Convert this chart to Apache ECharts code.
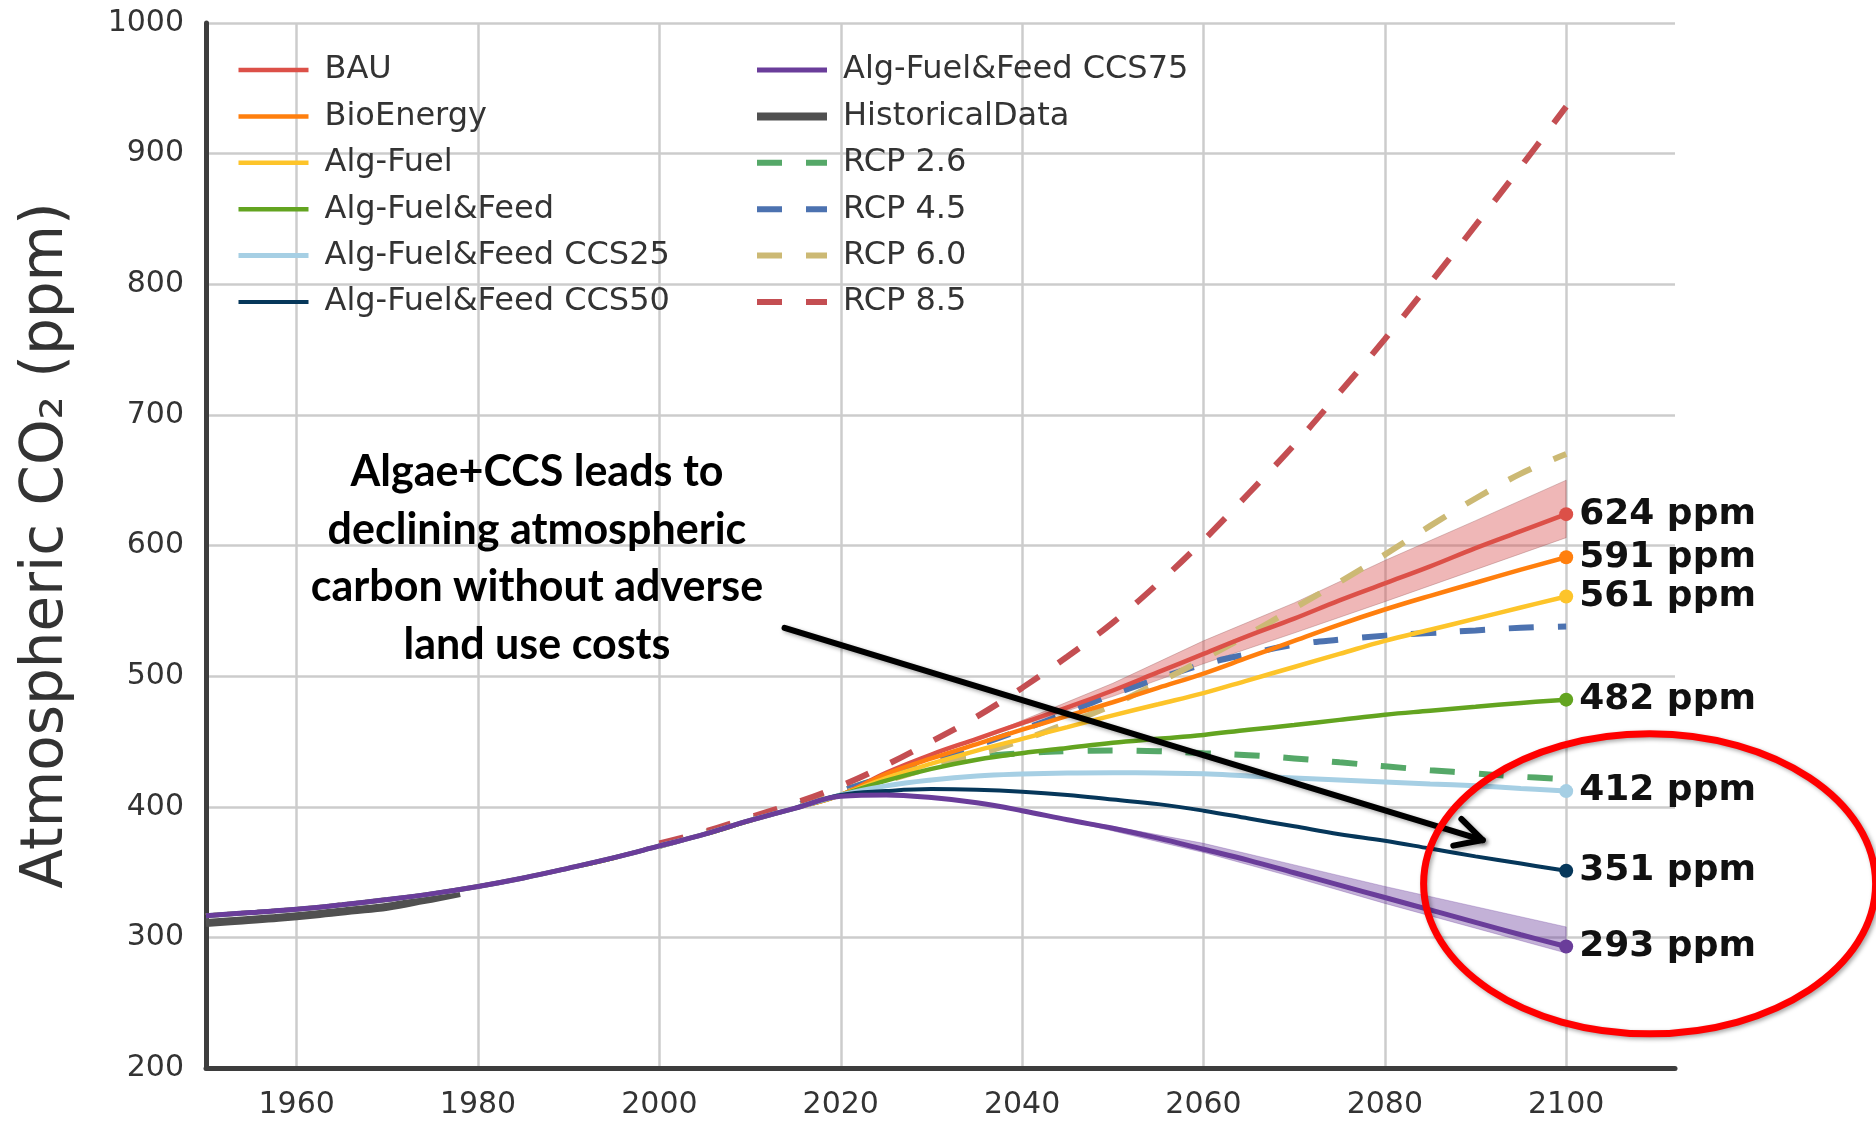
<!DOCTYPE html>
<html>
<head>
<meta charset="utf-8">
<script src="https://cdn.jsdelivr.net/npm/echarts@6/dist/echarts.min.js"></script>
<style>
  html, body { margin: 0; padding: 0; background: #ffffff; }
  #chart { width: 1876px; height: 1123px; }
</style>
</head>
<body>
<div id="chart"></div>
<script>
// ---- Atmospheric CO2 scenarios (ppm) ----

// x-axis tick years
const tickYears = [1960, 1980, 2000, 2020, 2040, 2060, 2080, 2100];

// Observed record
const histYears = [1950, 1954, 1958, 1962, 1966, 1970, 1974, 1978];
const histCO2   = [311, 313, 315, 317.5, 320.5, 323.5, 328.5, 334];

// Modelled past, shared by every scenario run
const sharedYears = [1950, 1955, 1960, 1965, 1970, 1975, 1980, 1985, 1990, 1995, 2000, 2005, 2010, 2015];
const sharedCO2   = [316.5, 319, 321.5, 325, 329, 333.5, 339, 345.5, 353, 361, 370, 379, 389.5, 399];

// Scenario projections, 2020-2100 every 5 years
const projYears = [2020, 2025, 2030, 2035, 2040, 2045, 2050, 2055, 2060, 2065, 2070, 2075, 2080, 2085, 2090, 2095, 2100];
const bau       = [409, 426, 440, 452, 464, 476, 489, 503, 517, 531, 544, 558, 571, 584, 598, 611, 624];
const bioEnergy = [409, 425, 437, 448, 459, 469.5, 480, 491, 502, 514.5, 527, 539.5, 551, 561.5, 571.5, 581.5, 591];
const algFuel   = [409, 422, 433, 443, 452, 461, 470, 478.5, 487, 497, 507, 517, 527, 535.5, 544, 552.5, 561];
const algFeed   = [409, 420, 429, 436, 441, 445, 449, 452, 455, 459, 462.5, 466.5, 470.5, 473.5, 476.5, 479.5, 482];
const ccs25     = [409, 416, 420.5, 423.5, 425, 425.8, 426, 425.8, 425.3, 423.5, 422, 420.5, 419, 417.5, 416, 414, 412];
const ccs50     = [409, 412, 413.5, 413, 411.5, 409, 405.5, 402, 397, 391, 385, 379, 374, 368, 362, 356.5, 351];
const ccs75     = [408, 409, 407, 403, 397, 390, 383.5, 376, 367.5, 359, 349.5, 340, 330.5, 321, 311.5, 302, 293];

// Uncertainty ranges
const bauBandYears = [2035, 2040, 2050, 2060, 2070, 2080, 2090, 2100];
const bauBandLow   = [452, 462.5, 484.5, 509.5, 533, 557, 581.5, 606];
const bauBandHigh  = [452, 466, 494.5, 527, 556, 588.5, 619, 650];
const ccs75BandYears = [2040, 2050, 2060, 2070, 2080, 2090, 2100];
const ccs75BandLow   = [397, 381.5, 365, 346, 326, 307, 288];
const ccs75BandHigh  = [397, 385, 372, 355.5, 339, 323.5, 308];

// IPCC RCP pathways, 2000-2100 every 5 years
const rcpYears = [2000, 2005, 2010, 2015, 2020, 2025, 2030, 2035, 2040, 2045, 2050, 2055, 2060, 2065, 2070, 2075, 2080, 2085, 2090, 2095, 2100];
const rcp26 = [370, 380, 390, 401, 412, 423, 432, 438, 441, 442.5, 443, 442.5, 441, 439.5, 437, 434, 431, 428, 425.5, 423, 421];
const rcp45 = [370, 380, 390, 401, 412, 423, 435, 447, 459, 472, 486, 498, 509, 517, 524, 528, 531, 533, 535, 537, 538];
const rcp60 = [370, 380, 390, 400, 410, 420, 430, 440, 451, 464, 478, 495, 513, 532, 552, 572, 593, 615, 636, 655, 670];
const rcp85 = [372, 381, 392, 403, 416, 432, 450, 469, 491, 515, 541, 571, 604, 640, 677, 717, 758, 801, 845, 890, 936];

// ---- styling ----
const FONT = 'DejaVu Sans';
const pairs = (xs, ys) => xs.map((x, i) => [x, ys[i]]);

const scenarios = [
  { name: 'BAU',                  values: bau,       color: '#dc5048', width: 4.5 },
  { name: 'BioEnergy',            values: bioEnergy, color: '#ff7f0e', width: 4.5 },
  { name: 'Alg-Fuel',             values: algFuel,   color: '#fdc42a', width: 4.5 },
  { name: 'Alg-Fuel&Feed',        values: algFeed,   color: '#63a420', width: 4.5 },
  { name: 'Alg-Fuel&Feed CCS25',  values: ccs25,     color: '#a6cfe4', width: 5 },
  { name: 'Alg-Fuel&Feed CCS50',  values: ccs50,     color: '#06375a', width: 4 },
  { name: 'Alg-Fuel&Feed CCS75',  values: ccs75,     color: '#6a3d9a', width: 5 }
];

const rcps = [
  { name: 'RCP 2.6', values: rcp26, color: '#55a868' },
  { name: 'RCP 4.5', values: rcp45, color: '#4c72b0' },
  { name: 'RCP 6.0', values: rcp60, color: '#ccb974' },
  { name: 'RCP 8.5', values: rcp85, color: '#c44e52' }
];

const series = [];

rcps.forEach(r => {
  series.push({
    name: r.name, type: 'line', data: pairs(rcpYears, r.values),
    symbol: 'none', smooth: 0.4,
    lineStyle: { color: r.color, width: 6, type: [25, 24] },
    itemStyle: { color: r.color },
    emphasis: { disabled: true }
  });
});

series.push({
  name: 'HistoricalData', type: 'line', data: pairs(histYears, histCO2),
  symbol: 'none', smooth: 0.4,
  lineStyle: { color: '#505050', width: 8 },
  itemStyle: { color: '#505050' },
  emphasis: { disabled: true }
});

function bandSeries(id, years, low, high, fill, edge) {
  return {
    id: id, type: 'custom', silent: true,
    data: years.map((y, i) => [y, low[i], high[i]]),
    encode: { x: 0, y: [1, 2] },
    renderItem: function (params, api) {
      if (params.dataIndex !== 0) return null;
      const top = years.map((y, i) => api.coord([y, high[i]]));
      const bottom = years.map((y, i) => api.coord([y, low[i]])).reverse();
      return {
        type: 'polygon',
        shape: { points: top.concat(bottom) },
        style: { fill: fill, stroke: edge, lineWidth: 1 }
      };
    }
  };
}

series.push(bandSeries('bauBand', bauBandYears, bauBandLow, bauBandHigh,
  'rgba(214, 74, 74, 0.40)', 'rgba(150, 90, 90, 0.35)'));
series.push(bandSeries('ccs75Band', ccs75BandYears, ccs75BandLow, ccs75BandHigh,
  'rgba(106, 61, 154, 0.40)', 'rgba(106, 61, 154, 0.30)'));

scenarios.forEach(s => {
  series.push({
    name: s.name, type: 'line',
    data: pairs(sharedYears, sharedCO2).concat(pairs(projYears, s.values)),
    symbol: 'none', smooth: 0.4,
    lineStyle: { color: s.color, width: s.width },
    itemStyle: { color: s.color },
    emphasis: { disabled: true }
  });
});

// End-of-century values with their labels
series.push({
  id: 'endpoints', type: 'scatter', silent: true,
  symbol: 'circle', symbolSize: 14,
  data: scenarios.map(s => ({
    value: [projYears[projYears.length - 1], s.values[s.values.length - 1]],
    itemStyle: { color: s.color, opacity: 1 }
  })),
  label: {
    show: true, position: 'right', distance: 6,
    fontFamily: FONT, fontWeight: 'bold', fontSize: 36, color: '#111111',
    formatter: p => Math.round(p.value[1]) + ' ppm'
  },
  z: 5
});

const legendText = { fontFamily: FONT, fontSize: 32, color: '#333333', lineHeight: 34, padding: [0, 0, 0, 11] };
const legendBase = {
  orient: 'vertical', itemWidth: 70, itemHeight: 14, itemGap: 12.4,
  selectedMode: false, textStyle: legendText, top: 48,
  // plain line samples: no marker in the middle, stroke width and dash taken from the series
  itemStyle: { color: 'rgba(0,0,0,0)', borderWidth: 0, opacity: 0 },
  lineStyle: { width: 'inherit', type: 'inherit', opacity: 1 }
};

const chart = echarts.init(document.getElementById('chart'), null, { renderer: 'canvas' });

chart.setOption({
  animation: false,
  backgroundColor: '#ffffff',
  grid: { left: 206, right: 201, top: 23, bottom: 55, containLabel: false },
  legend: [
    Object.assign({}, legendBase, { left: 231,
      data: ['BAU', 'BioEnergy', 'Alg-Fuel', 'Alg-Fuel&Feed', 'Alg-Fuel&Feed CCS25', 'Alg-Fuel&Feed CCS50'] }),
    Object.assign({}, legendBase, { left: 748,
      data: ['Alg-Fuel&Feed CCS75', 'HistoricalData', 'RCP 2.6', 'RCP 4.5', 'RCP 6.0', 'RCP 8.5'] })
  ],
  xAxis: {
    type: 'value', min: 1950, max: 2112,
    axisLine: { show: true, onZero: false, lineStyle: { color: '#3d3d3d', width: 5 } },
    axisTick: { show: false, customValues: tickYears },
    axisLabel: { customValues: tickYears, formatter: v => String(v),
      fontFamily: FONT, fontSize: 30, color: '#333333', margin: 22 },
    splitLine: { show: true, lineStyle: { color: '#cccccc', width: 2.5 } }
  },
  yAxis: {
    type: 'value', min: 200, max: 1000, interval: 100,
    name: 'Atmospheric CO\u2082 (ppm)', nameLocation: 'middle', nameGap: 130,
    nameTextStyle: { fontFamily: FONT, fontSize: 58, color: '#333333' },
    axisLine: { show: true, onZero: false, lineStyle: { color: '#3d3d3d', width: 5 } },
    axisTick: { show: false },
    axisLabel: { formatter: v => String(v), fontFamily: FONT, fontSize: 30, color: '#333333', margin: 22 },
    splitLine: { show: true, lineStyle: { color: '#cccccc', width: 2.5 } }
  },
  series: series
});

// ---- annotation: note, arrow and highlight ring ----
const px = (x, y) => chart.convertToPixel({ gridIndex: 0 }, [x, y]);

const notePos = px(1986.5, 590);
const arrowFrom = px(2013.8, 537);
const arrowTo = px(2090.8, 374.5);
const ringCenter = px(2109.2, 341);

const ang = Math.atan2(arrowTo[1] - arrowFrom[1], arrowTo[0] - arrowFrom[0]);
const headLen = 30, headSpread = Math.PI / 6.5;
const wingA = [arrowTo[0] - headLen * Math.cos(ang - headSpread), arrowTo[1] - headLen * Math.sin(ang - headSpread)];
const wingB = [arrowTo[0] - headLen * Math.cos(ang + headSpread), arrowTo[1] - headLen * Math.sin(ang + headSpread)];

const shadow = { shadowBlur: 4, shadowColor: 'rgba(0,0,0,0.35)', shadowOffsetX: 2, shadowOffsetY: 2 };

chart.setOption({
  graphic: [
    {
      type: 'text', z: 10, x: notePos[0], y: notePos[1],
      style: {
        text: 'Algae+CCS leads to\ndeclining atmospheric\ncarbon without adverse\nland use costs',
        fontFamily: 'Lato', fontWeight: 'bold', fontSize: 43, lineHeight: 57.5,
        fill: '#000000', align: 'center', verticalAlign: 'middle'
      }
    },
    {
      type: 'line', z: 10,
      shape: { x1: arrowFrom[0], y1: arrowFrom[1], x2: arrowTo[0], y2: arrowTo[1] },
      style: Object.assign({ stroke: '#000000', lineWidth: 6, lineCap: 'round' }, shadow)
    },
    {
      type: 'polyline', z: 10,
      shape: { points: [wingA, arrowTo, wingB] },
      style: Object.assign({ stroke: '#000000', lineWidth: 6, lineCap: 'round', lineJoin: 'round', fill: null }, shadow)
    },
    {
      type: 'ellipse', z: 11,
      shape: { cx: ringCenter[0], cy: ringCenter[1], rx: 226, ry: 150 },
      style: Object.assign({ stroke: '#ff0000', lineWidth: 7, fill: null }, shadow)
    }
  ]
});
</script>
</body>
</html>
